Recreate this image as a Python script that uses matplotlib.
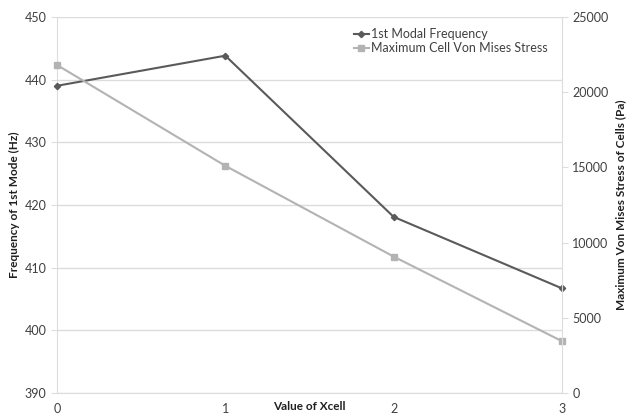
import matplotlib.pyplot as plt

# Datos
xcell = [0, 1, 2, 3]
frecuencia = [439.0, 443.8, 418.1, 406.7]       # Hz, eje izquierdo
tension = [21800, 15100, 9070, 3450]            # Pa, eje derecho

color_oscuro = "#5a5a5a"
color_claro = "#b3b3b3"
color_texto = "#404040"
color_grid = "#dcdcdc"

plt.rcParams['font.family'] = ['Lato', 'DejaVu Sans']

fig = plt.figure(figsize=(6.27, 4.2), dpi=100)
ax = fig.add_axes([0.0909, 0.064, 0.8054, 0.896])
ax2 = ax.twinx()

l1, = ax.plot(xcell, frecuencia, color=color_oscuro, marker="D", markersize=3.2,
              linewidth=1.5, label="1st Modal Frequency", zorder=3, clip_on=False)
l2, = ax2.plot(xcell, tension, color=color_claro, marker="s", markersize=5,
               linewidth=1.5, label="Maximum Cell Von Mises Stress", zorder=2, clip_on=False)

ax.set_xlim(0, 3)
ax.set_ylim(390, 450)
ax2.set_ylim(0, 25000)
ax.set_xticks(xcell)
ax.set_yticks(range(390, 451, 10))
ax2.set_yticks(range(0, 25001, 5000))

ax.grid(axis="y", color=color_grid, linewidth=1)
ax.set_axisbelow(True)

for a in (ax, ax2):
    for s in a.spines.values():
        s.set_visible(False)
    a.tick_params(colors=color_grid, labelcolor=color_texto, labelsize=9, length=4)
ax.spines["left"].set_visible(True)
ax.spines["left"].set_color(color_grid)
ax2.spines["right"].set_visible(True)
ax2.spines["right"].set_color(color_grid)
ax.spines["bottom"].set_visible(True)
ax.spines["bottom"].set_color(color_grid)
ax.tick_params(axis="x", length=0, pad=7)

ax.set_ylabel("Frequency of 1st Mode (Hz)", fontsize=8.5, fontweight="bold", color="#202020", labelpad=3)
ax2.set_ylabel("Maximum Von Mises Stress of Cells (Pa)", fontsize=8.5, fontweight="bold", color="#202020", labelpad=5)
ax.set_xlabel("Value of Xcell", fontsize=8.5, fontweight="bold", color="#202020")
ax.xaxis.set_label_coords(0.5, -0.021)

ax2.legend(handles=[l1, l2], loc="upper left", bbox_to_anchor=(0.565, 1.0),
           frameon=False, fontsize=9, handlelength=1.2, handletextpad=0.2,
           labelspacing=0.15, labelcolor=color_texto)

fig.savefig("out.png", dpi=100)
